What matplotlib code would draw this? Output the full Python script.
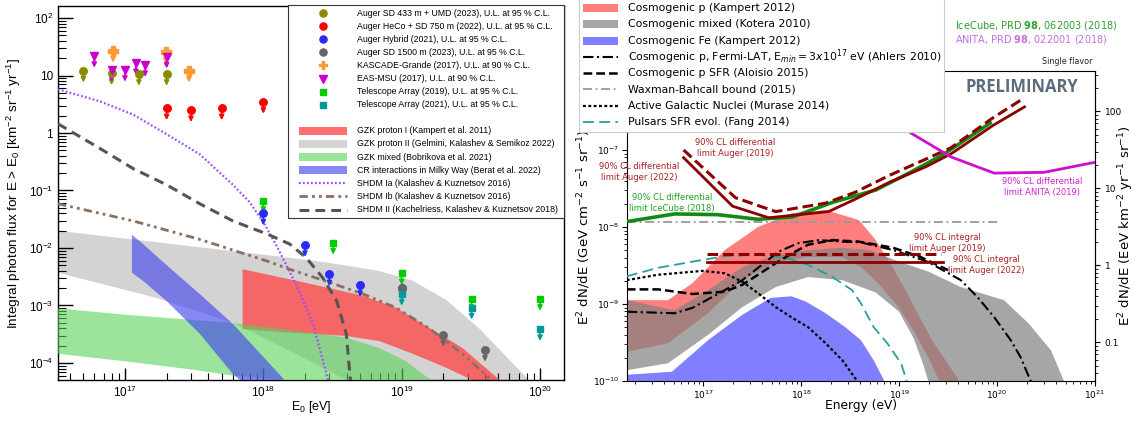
import numpy as np
import matplotlib
matplotlib.use("Agg")
import matplotlib.pyplot as plt
from matplotlib.lines import Line2D
from matplotlib.patches import Rectangle
from matplotlib import ticker

plt.rcParams['mathtext.fontset'] = 'dejavusans'
plt.rcParams['mathtext.rm'] = 'Liberation Sans'
plt.rcParams['mathtext.it'] = 'Liberation Sans:italic'
plt.rcParams['mathtext.bf'] = 'Liberation Sans:bold'

# ---------------- LEFT PANEL DATA (E0 [eV], integral flux [km^-2 sr^-1 yr^-1]) ----------------
# upper limits
sd433_E = [5e16, 8e16, 1.26e17, 2e17]
sd433_F = [12.2, 11.0, 10.7, 10.7]
heco_E = [2e17, 3e17, 5e17, 1e18]
heco_F = [2.7, 2.5, 2.7, 3.5]
hybrid_E = [1e18, 2e18, 3e18, 5e18, 1e19]
hybrid_F = [0.040, 0.0113, 0.0035, 0.00228, 0.00204]
sd1500_E = [1e19, 2e19, 4e19]
sd1500_F = [0.00204, 3.1e-4, 1.7e-4]
kascade_E = [8.2e16, 1.97e17, 2.9e17]
kascade_F = [27, 26, 12.2]
easmsu_E = [6e16, 8e16, 1e17, 1.2e17, 1.4e17, 2e17]
easmsu_F = [22, 12.6, 12.6, 16.4, 15.3, 21.4]
ta19_E = [1e18, 3.2e18, 1e19, 3.2e19, 1e20]
ta19_F = [0.066, 0.0124, 0.00363, 0.00131, 0.00131]
ta21_E = [1e19, 3.2e19, 1e20]
ta21_F = [0.0016, 9.2e-4, 3.9e-4]

# bands / curves (log10 E, log10 F)
gzk2_up_lE = [16.516, 17.3, 18.19, 18.48, 18.84, 19.08, 19.32, 19.56, 19.72, 19.82, 19.93]
gzk2_up_lF = [-1.70, -1.92, -2.17, -2.26, -2.40, -2.57, -2.90, -3.40, -3.80, -4.05, -4.32]
gzk2_lo_lE = [16.516, 17.23, 17.78, 18.2, 18.62]
gzk2_lo_lF = [-2.43, -2.87, -3.30, -3.80, -4.32]

gzk1_up_lE = [17.85, 18.24, 18.72, 18.96, 19.20, 19.44, 19.72]
gzk1_up_lF = [-2.37, -2.57, -2.83, -3.04, -3.39, -3.74, -4.32]
gzk1_lo_lE = [17.85, 18.24, 18.60, 18.84, 19.08, 19.32, 19.53]
gzk1_lo_lF = [-3.41, -3.48, -3.53, -3.62, -3.84, -4.08, -4.32]

gzkm_up_lE = [16.516, 17.0, 17.76, 18.24, 18.60, 18.84, 19.03, 19.15, 19.23]
gzkm_up_lF = [-3.05, -3.16, -3.30, -3.44, -3.56, -3.74, -3.97, -4.19, -4.32]
gzkm_lo_lE = [16.516, 17.0, 17.5, 17.78, 18.25]
gzkm_lo_lF = [-3.84, -3.97, -4.12, -4.22, -4.32]

crmw_up_lE = [17.05, 17.13, 17.25, 17.54, 17.78, 18.14, 18.15]
crmw_up_lF = [-1.77, -1.93, -2.19, -2.80, -3.32, -4.26, -4.32]
crmw_lo_lE = [17.05, 17.13, 17.30, 17.54, 17.78, 17.84]
crmw_lo_lF = [-2.43, -2.57, -2.92, -3.49, -4.19, -4.32]

shdm1a_lE = [16.516, 16.82, 17.06, 17.30, 17.54, 17.78, 17.90, 18.0, 18.10, 18.24, 18.36, 18.47]
shdm1a_lF = [0.76, 0.55, 0.32, -0.02, -0.37, -0.90, -1.20, -1.55, -1.98, -2.65, -3.32, -4.32]
shdm1b_lE = [16.516, 17.06, 17.54, 18.03, 18.19, 18.48, 18.72, 18.96, 19.20, 19.44, 19.66]
shdm1b_lF = [-1.23, -1.53, -1.85, -2.23, -2.37, -2.60, -2.80, -3.04, -3.40, -3.84, -4.32]
shdm2_lE = [16.516, 16.82, 17.06, 17.30, 17.54, 17.78, 18.03, 18.19, 18.31, 18.43, 18.53, 18.60, 18.63]
shdm2_lF = [0.16, -0.27, -0.62, -0.90, -1.23, -1.53, -1.76, -1.93, -2.17, -2.52, -2.92, -3.50, -4.32]

# ---------------- RIGHT PANEL DATA (log10 E [eV], log10 E^2 dN/dE [GeV cm^-2 s^-1 sr^-1]) ----------------
cp_up_lE = [16.22, 16.64, 16.89, 17.22, 17.56, 17.91, 18.25, 18.59, 18.75, 18.9, 19.05, 19.2, 19.35, 19.5, 19.64]
cp_up_lF = [-8.95, -8.95, -8.73, -8.30, -8.00, -7.82, -7.78, -7.91, -8.15, -8.45, -8.78, -9.15, -9.50, -9.78, -10.05]
cp_lo_lE = [16.22, 16.64, 17.05, 17.40, 17.74, 18.07, 18.42, 18.61, 18.8, 19.0, 19.15, 19.3, 19.43]
cp_lo_lF = [-9.62, -9.51, -9.12, -8.69, -8.45, -8.39, -8.39, -8.52, -8.75, -9.05, -9.35, -9.70, -10.05]

cm_up_lE = [16.22, 16.71, 17.05, 17.40, 17.74, 18.07, 18.42, 18.7, 19.0, 19.3, 19.63, 20.07, 20.32, 20.55, 20.70]
cm_up_lF = [-8.95, -9.08, -8.82, -8.52, -8.36, -8.30, -8.27, -8.30, -8.45, -8.58, -8.78, -8.95, -9.25, -9.60, -10.05]
cm_lo_lE = [16.22, 16.64, 17.05, 17.40, 17.74, 18.07, 18.42, 18.76, 19.0, 19.15, 19.25, 19.31]
cm_lo_lF = [-9.86, -9.77, -9.40, -9.04, -8.78, -8.65, -8.69, -8.85, -9.10, -9.45, -9.80, -10.05]

cfe_up_lE = [16.22, 16.68, 17.05, 17.40, 17.69, 17.9, 18.05, 18.25, 18.45, 18.61, 18.74, 18.87]
cfe_up_lF = [-9.92, -9.88, -9.47, -9.14, -8.92, -8.90, -8.97, -9.12, -9.30, -9.47, -9.73, -10.05]

ahlers_lE = [16.22, 16.71, 16.89, 17.22, 17.40, 17.56, 17.77, 17.97, 18.18, 18.42, 18.61, 18.94, 19.29, 19.63, 19.80, 19.97, 20.14, 20.24, 20.36]
ahlers_lF = [-9.10, -9.12, -9.05, -8.82, -8.69, -8.53, -8.32, -8.21, -8.17, -8.19, -8.20, -8.30, -8.45, -8.69, -8.91, -9.17, -9.47, -9.69, -10.05]
aloisio_lE = [16.22, 16.54, 16.89, 17.22, 17.40, 17.56, 17.74, 17.91, 18.07, 18.32, 18.59, 18.94, 19.22, 19.5]
aloisio_lF = [-8.81, -8.81, -8.87, -8.84, -8.75, -8.62, -8.47, -8.34, -8.23, -8.17, -8.19, -8.27, -8.39, -8.56]
wb_lE = [16.22, 20.02]
wb_lF = [-7.94, -7.94]
agn_lE = [16.22, 16.54, 16.99, 17.22, 17.40, 17.56, 17.74, 17.91, 18.07, 18.25, 18.42, 18.60]
agn_lF = [-8.69, -8.62, -8.57, -8.60, -8.71, -8.86, -9.04, -9.18, -9.30, -9.51, -9.73, -10.05]
fang_lE = [16.22, 16.54, 16.89, 17.22, 17.56, 17.84, 18.07, 18.32, 18.52, 18.61, 18.74, 18.88, 19.02, 19.09]
fang_lF = [-8.64, -8.53, -8.45, -8.38, -8.36, -8.40, -8.49, -8.65, -8.82, -8.99, -9.30, -9.51, -9.77, -10.05]

aug19_int_lE = [17.04, 19.43]
aug19_int_lF = [-8.35, -8.35]
aug22_int_lE = [17.04, 19.45]
aug22_int_lF = [-8.45, -8.45]

aug22_diff_lE = [16.80, 17.30, 17.67, 18.28, 18.55, 18.90, 19.27, 19.53, 19.96, 20.28]
aug22_diff_lF = [-7.10, -7.73, -7.88, -7.80, -7.64, -7.42, -7.22, -7.05, -6.68, -6.44]
aug19_diff_lE = [16.80, 17.33, 17.74, 18.25, 18.55, 18.90, 19.27, 19.53, 19.96, 20.27]
aug19_diff_lF = [-7.00, -7.62, -7.80, -7.69, -7.55, -7.33, -7.12, -6.97, -6.58, -6.33]
icecube_lE = [16.22, 16.71, 17.15, 17.56, 17.91, 18.32, 18.76, 19.10, 19.45, 19.93]
icecube_lF = [-7.93, -7.83, -7.84, -7.90, -7.87, -7.68, -7.52, -7.30, -7.06, -6.65]
anita_lE = [18.7, 18.95, 19.12, 19.53, 19.97, 20.48, 21.0]
anita_lF = [-6.0, -6.45, -6.78, -7.09, -7.30, -7.29, -7.16]

GEV_CM2_S_TO_EEV_KM2_YR = 3.156e8

labelsL = [
    'Auger SD 433 m + UMD (2023), U.L. at 95 % C.L.',
    'Auger HeCo + SD 750 m (2022), U.L. at 95 % C.L.',
    'Auger Hybrid (2021), U.L. at 95 % C.L.',
    'Auger SD 1500 m (2023), U.L. at 95 % C.L.',
    'KASCADE-Grande (2017), U.L. at 90 % C.L.',
    'EAS-MSU (2017), U.L. at 90 % C.L.',
    'Telescope Array (2019), U.L. at 95 % C.L.',
    'Telescope Array (2021), U.L. at 95 % C.L.',
    '',
    'GZK proton I (Kampert et al. 2011)',
    'GZK proton II (Gelmini, Kalashev & Semikoz 2022)',
    'GZK mixed (Bobrikova et al. 2021)',
    'CR interactions in Milky Way (Berat et al. 2022)',
    'SHDM Ia (Kalashev & Kuznetsov 2016)',
    'SHDM Ib (Kalashev & Kuznetsov 2016)',
    'SHDM II (Kachelriess, Kalashev & Kuznetsov 2018)',
]
labelsR = [
    'Cosmogenic p (Kampert 2012)',
    'Cosmogenic mixed (Kotera 2010)',
    'Cosmogenic Fe (Kampert 2012)',
    r'Cosmogenic p, Fermi-LAT, E$_{min} = 3x10^{17}$ eV (Ahlers 2010)',
    'Cosmogenic p SFR (Aloisio 2015)',
    'Waxman-Bahcall bound (2015)',
    'Active Galactic Nuclei (Murase 2014)',
    'Pulsars SFR evol. (Fang 2014)',
]

W, H = 1140, 421
fig = plt.figure(figsize=(W / 100, H / 100), dpi=100)


def P(v):
    return 10 ** np.asarray(v, dtype=float)


def band(ax, uE, uF, lE, lF, **kw):
    xs = np.concatenate([P(uE), P(lE)[::-1]])
    ys = np.concatenate([P(uF), P(lF)[::-1]])
    ax.fill(xs, ys, lw=0, **kw)


def fpx(x, y):
    return (x / W, 1 - y / H)


# ---- manual legend helpers (figure pixel positions) ----
def leg_frame(x0, y0, x1, y1, ec, lw):
    fig.add_artist(Rectangle((x0 / W, 1 - y1 / H), (x1 - x0) / W, (y1 - y0) / H,
                             transform=fig.transFigure, facecolor='white', edgecolor=ec,
                             lw=lw, zorder=20))


def leg_marker(x, y, marker, color, ms):
    fig.add_artist(Line2D([x / W], [1 - y / H], transform=fig.transFigure, ls='none',
                          marker=marker, color=color, ms=ms, zorder=21))


def leg_line(x0, x1, y, style):
    fig.add_artist(Line2D([x0 / W, x1 / W], [1 - y / H, 1 - y / H], transform=fig.transFigure,
                          zorder=21, **style))


def leg_patch(x0, x1, y, h, color, alpha):
    fig.add_artist(Rectangle((x0 / W, 1 - (y + h / 2) / H), (x1 - x0) / W, h / H,
                             transform=fig.transFigure, facecolor=color, alpha=alpha,
                             lw=0, zorder=21))


# ======================= LEFT PANEL =======================
LF = 'Liberation Sans'
axL = fig.add_axes([58 / W, 1 - 380 / H, (564 - 58) / W, (380 - 6) / H])
axL.set_xscale('log')
axL.set_yscale('log')
axL.set_xlim(10 ** 16.516, 10 ** 20.173)
axL.set_ylim(10 ** -4.296, 10 ** 2.209)

C_GZK1, A_GZK1 = '#ff4848', 0.78
C_GZK2 = '#d3d3d3'
C_GZKM, A_GZKM = '#5ad15a', 0.6
C_CRMW, A_CRMW = '#4040ee', 0.62
band(axL, gzk2_up_lE, gzk2_up_lF, gzk2_lo_lE, gzk2_lo_lF, color=C_GZK2, zorder=1)
band(axL, gzk1_up_lE, gzk1_up_lF, gzk1_lo_lE, gzk1_lo_lF, color=C_GZK1, alpha=A_GZK1, zorder=2)
band(axL, gzkm_up_lE, gzkm_up_lF, gzkm_lo_lE, gzkm_lo_lF, color=C_GZKM, alpha=A_GZKM, zorder=3)
band(axL, crmw_up_lE, crmw_up_lF, crmw_lo_lE, crmw_lo_lF, color=C_CRMW, alpha=A_CRMW, zorder=4)

SH1A = dict(color='#9b4dff', lw=1.6, dashes=[0.8, 1.0])
SH1B = dict(color='#8b6f60', lw=2.0, dashes=[3, 1.5, 1, 1.5, 1, 1.5])
SH2 = dict(color='#555555', lw=2.2, dashes=[3.2, 2])
axL.plot(P(shdm1a_lE), P(shdm1a_lF), zorder=5, **SH1A)
axL.plot(P(shdm1b_lE), P(shdm1b_lF), zorder=5, **SH1B)
axL.plot(P(shdm2_lE), P(shdm2_lF), zorder=5, **SH2)


def uplim(ax, E, F, color, marker, ms):
    for e, f in zip(E, F):
        ax.annotate('', xy=(e, f * 0.62), xytext=(e, f),
                    arrowprops=dict(arrowstyle='-|>,head_length=0.28,head_width=0.14',
                                    color=color, lw=1.2, shrinkA=0, shrinkB=0),
                    zorder=6)
    ax.plot(E, F, ls='none', marker=marker, color=color, ms=ms, zorder=7)


MK = [('#8b8b00', 'o', 5.4), ('#ff0000', 'o', 5.4), ('#2a2aff', 'o', 5.4), ('#666666', 'o', 5.4),
      ('#ff9933', 'P', 6.5), ('#cc00cc', 'v', 5.5), ('#00cc00', 's', 4.2), ('#009999', 's', 4.2)]
for (E, F), (c, m, ms) in zip([(sd433_E, sd433_F), (heco_E, heco_F), (hybrid_E, hybrid_F),
                               (sd1500_E, sd1500_F), (kascade_E, kascade_F), (easmsu_E, easmsu_F),
                               (ta19_E, ta19_F), (ta21_E, ta21_F)], MK):
    uplim(axL, E, F, c, m, ms)

axL.xaxis.set_minor_locator(ticker.LogLocator(base=10, subs=np.arange(2, 10), numticks=30))
axL.xaxis.set_minor_formatter(ticker.NullFormatter())
axL.set_xticks([1e17, 1e18, 1e19, 1e20],
               [r'10$^{17}$', r'10$^{18}$', r'10$^{19}$', r'10$^{20}$'],
               family=LF, fontsize=8.5, math_fontfamily='custom')
axL.yaxis.set_minor_locator(ticker.LogLocator(base=10, subs=np.arange(2, 10), numticks=30))
axL.yaxis.set_minor_formatter(ticker.NullFormatter())
axL.set_yticks([1e-4, 1e-3, 1e-2, 1e-1, 1, 10, 100],
               [r'10$^{-4}$', r'10$^{-3}$', r'10$^{-2}$', r'10$^{-1}$', '1', '10', r'10$^{2}$'],
               family=LF, fontsize=8.5, math_fontfamily='custom')
axL.tick_params(which='both', direction='in', top=False, right=False, colors='black')
axL.tick_params(axis='y', which='major', length=11, width=1)
axL.tick_params(axis='y', which='minor', length=6, width=0.8)
axL.tick_params(axis='x', which='major', length=9, width=1)
axL.tick_params(axis='x', which='minor', length=5, width=0.8)
for s in axL.spines.values():
    s.set_linewidth(1.0)
fig.text(*fpx(311, 407), r'E$_0$ [eV]', family=LF, fontsize=9, math_fontfamily='custom',
         ha='center', va='center')
axL.set_ylabel(r'Integral photon flux for E > E$_0$ [km$^{-2}$ sr$^{-1}$ yr$^{-1}$]',
               family=LF, fontsize=9.7, math_fontfamily='custom', labelpad=4)

# left legend (manual)
leg_frame(288, 5, 564, 218, '#333333', 0.8)
rowsL = [13 + 13.1 * i for i in range(16)]
for i, (c, m, ms) in enumerate(MK):
    leg_marker(323, rowsL[i], m, c, ms * 0.95)
leg_patch(299, 347, rowsL[9], 8, C_GZK1, A_GZK1)
leg_patch(299, 347, rowsL[10], 8, C_GZK2, 1.0)
leg_patch(299, 347, rowsL[11], 8, C_GZKM, A_GZKM)
leg_patch(299, 347, rowsL[12], 8, C_CRMW, A_CRMW)
leg_line(299, 347, rowsL[13], SH1A)
leg_line(299, 347, rowsL[14], SH1B)
leg_line(299, 347, rowsL[15], SH2)
for i, lab in enumerate(labelsL):
    if lab:
        fig.text(357 / W, 1 - rowsL[i] / H, lab, family=LF, fontsize=6.3, va='center',
                 ha='left', zorder=22)

# ======================= RIGHT PANEL =======================
axR = fig.add_axes([627 / W, 1 - 381 / H, (1095 - 627) / W, (381 - 71) / H])
axR.set_xscale('log')
axR.set_yscale('log')
axR.set_xlim(10 ** 16.222, 10 ** 21.0)
axR.set_ylim(1e-10, 10 ** -5.974)

C_CP, A_CP = '#ff0000', 0.5
C_CM, A_CM = '#808080', 0.7
C_FE, A_FE = '#0000ff', 0.5
band(axR, cp_up_lE, cp_up_lF, cp_lo_lE, cp_lo_lF, color=C_CP, alpha=A_CP, zorder=1)
band(axR, cm_up_lE, cm_up_lF, cm_lo_lE, cm_lo_lF, color=C_CM, alpha=A_CM, zorder=2)
band(axR, cfe_up_lE, cfe_up_lF, cfe_up_lE, [-10.6] * len(cfe_up_lE), color=C_FE, alpha=A_FE, zorder=2)

DR = '#8b0000'
WB = dict(color='#999999', lw=1.3, dashes=[5, 2, 1, 2])
FANG = dict(color='#2a9d9d', lw=1.3, dashes=[6, 3])
AGN = dict(color='black', lw=1.6, dashes=[1.3, 1.1])
ALO = dict(color='black', lw=1.8, dashes=[3.5, 1.6])
AHL = dict(color='black', lw=1.5, dashes=[5, 1.7, 1, 1.7])
axR.plot(P(wb_lE), P(wb_lF), zorder=3, **WB)
axR.plot(P(fang_lE), P(fang_lF), zorder=3, **FANG)
axR.plot(P(agn_lE), P(agn_lF), zorder=3, **AGN)
axR.plot(P(aloisio_lE), P(aloisio_lF), zorder=3, **ALO)
axR.plot(P(ahlers_lE), P(ahlers_lF), zorder=3, **AHL)
axR.plot(P(aug19_int_lE), P(aug19_int_lF), color=DR, lw=2.2, dashes=[3.5, 1.6], zorder=4)
axR.plot(P(aug22_int_lE), P(aug22_int_lF), color=DR, lw=2.0, zorder=4)
axR.plot(P(icecube_lE), P(icecube_lF), color='#138a13', lw=2.6, zorder=4)
axR.plot(P(aug22_diff_lE), P(aug22_diff_lF), color=DR, lw=2.0, zorder=4)
axR.plot(P(aug19_diff_lE), P(aug19_diff_lF), color=DR, lw=2.2, dashes=[3.5, 1.6], zorder=4)
axR.plot(P(anita_lE), P(anita_lF), color='#cc11cc', lw=2.0, zorder=4)

axR.tick_params(which='both', direction='out', labelsize=6.5, pad=2)
axR.tick_params(which='major', length=3.5, width=0.8)
axR.tick_params(which='minor', length=2, width=0.6)
axR.xaxis.set_major_locator(ticker.LogLocator(base=10, numticks=20))
axR.xaxis.set_minor_locator(ticker.LogLocator(base=10, subs=np.arange(2, 10), numticks=40))
axR.xaxis.set_minor_formatter(ticker.NullFormatter())
axR.yaxis.set_major_locator(ticker.FixedLocator([1e-10, 1e-9, 1e-8, 1e-7]))
axR.yaxis.set_minor_locator(ticker.LogLocator(base=10, subs=np.arange(2, 10), numticks=40))
axR.yaxis.set_minor_formatter(ticker.NullFormatter())
for s in axR.spines.values():
    s.set_linewidth(0.8)
fig.text(*fpx(861, 406), 'Energy (eV)', fontsize=8.8, ha='center', va='center')
fig.text(*fpx(584, 227), r'E$^2$ dN/dE (GeV cm$^{-2}$ s$^{-1}$ sr$^{-1}$)', fontsize=9.5,
         rotation=90, ha='center', va='center', zorder=2)

sec = axR.secondary_yaxis('right', functions=(lambda y: y * GEV_CM2_S_TO_EEV_KM2_YR,
                                              lambda y: y / GEV_CM2_S_TO_EEV_KM2_YR))
sec.yaxis.set_major_locator(ticker.FixedLocator([0.1, 1, 10, 100]))
sec.yaxis.set_major_formatter(ticker.FixedFormatter(['0.1', '1', '10', '100']))
sec.yaxis.set_minor_locator(ticker.LogLocator(base=10, subs=np.arange(2, 10), numticks=40))
sec.yaxis.set_minor_formatter(ticker.NullFormatter())
sec.tick_params(which='both', direction='out', labelsize=6.5)
sec.tick_params(which='major', length=3.5, width=0.8)
sec.tick_params(which='minor', length=2, width=0.6)
fig.text(*fpx(1126, 226), r'E$^2$ dN/dE (EeV km$^{-2}$ yr$^{-1}$ sr$^{-1}$)', fontsize=9.5,
         rotation=90, ha='center', va='center', zorder=2)

AUG_TXT = '#a81e1e'
txt_kw = dict(fontsize=6, ha='center', va='center', linespacing=1.15, zorder=6)
fig.text(*fpx(735, 148), '90% CL differential\nlimit Auger (2019)', color=AUG_TXT, **txt_kw)
fig.text(*fpx(639, 172), '90% CL differential\nlimit Auger (2022)', color=AUG_TXT, **txt_kw)
fig.text(*fpx(672, 203), '90% CL differential\nlimit IceCube (2018)', color='#22a022', **txt_kw)
fig.text(*fpx(1042, 187), '90% CL differential\nlimit ANITA (2019)', color='#cc22cc', **txt_kw)
fig.text(*fpx(947, 243), '90% CL integral\nlimit Auger (2019)', color=AUG_TXT, **txt_kw)
fig.text(*fpx(986, 265), '90% CL integral\nlimit Auger (2022)', color=AUG_TXT, **txt_kw)

fig.text(*fpx(1022, 87), 'PRELIMINARY', family='Open Sans', fontweight='bold', fontsize=12,
         color='#5b6b7b', ha='center', va='center')
fig.text(*fpx(1092, 62), 'Single flavor', fontsize=5.8, ha='right', va='center', color='#222222')
fig.text(*fpx(955, 25), r'IceCube, PRD $\mathbf{98}$, 062003 (2018)', fontsize=7,
         color='#2ca02c', ha='left', va='center')
fig.text(*fpx(955, 40), r'ANITA, PRD $\mathbf{98}$, 022001 (2018)', fontsize=7,
         color='#c66ee8', ha='left', va='center')

# right legend (manual)
leg_frame(579, -10, 944, 132, '#cccccc', 0.8)
rowsR = [8 + 16.3 * i for i in range(8)]
leg_patch(583, 618, rowsR[0], 8, C_CP, A_CP)
leg_patch(583, 618, rowsR[1], 8, C_CM, A_CM)
leg_patch(583, 618, rowsR[2], 8, C_FE, A_FE)
for i, st in zip(range(3, 8), [AHL, ALO, WB, AGN, FANG]):
    leg_line(583, 618, rowsR[i], st)
for i, lab in enumerate(labelsR):
    fig.text(628 / W, 1 - rowsR[i] / H, lab, fontsize=7.8, va='center', ha='left', zorder=22)

fig.savefig('out.png', dpi=100)
